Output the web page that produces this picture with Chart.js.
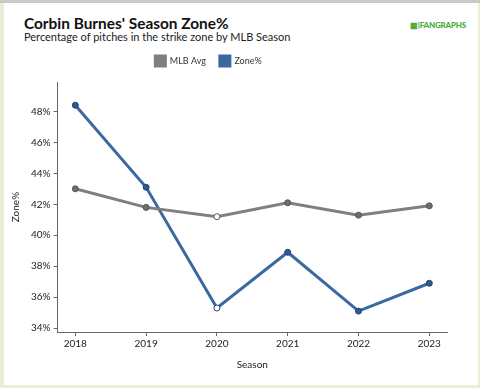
<!DOCTYPE html>
<html>
<head>
<meta charset="utf-8">
<script src="https://cdn.jsdelivr.net/npm/chart.js@4"></script>
<style>
  html, body { margin: 0; padding: 0; }
  body { width: 480px; height: 388px; background: #eeecd6; position: relative; overflow: hidden; font-family: Lato, sans-serif; }
  #topbar { position: absolute; left: 0; top: 0; width: 480px; height: 3px; background: #c9c9c9; }
  #panel { position: absolute; left: 4px; top: 3px; width: 474px; height: 382px; background: #fff; }
  #title { position: absolute; left: 20px; top: 11px; font-size: 15.4px; font-weight: bold; color: #111; }
  #subtitle { position: absolute; left: 20px; top: 27px; font-size: 11px; color: #222; }
  #logo { position: absolute; left: 406px; top: 17px; font-size: 8px; font-weight: 900; color: #4caa3c; letter-spacing: -0.2px; }
  #wrap { position: absolute; left: 0; top: 37px; width: 474px; height: 345px; }
</style>
</head>
<body>
<div id="topbar"></div>
<div id="panel">
  <div id="title">Corbin Burnes' Season Zone%</div>
  <div id="subtitle">Percentage of pitches in the strike zone by MLB Season</div>
  <div id="logo">&#9641;|FANGRAPHS</div>
  <div id="wrap"><canvas id="myChart"></canvas></div>
</div>
<script>
const seasons = [2018, 2019, 2020, 2021, 2022, 2023];
const mlbAvg = [43.0, 41.8, 41.2, 42.1, 41.3, 41.9];
const zonePct = [48.4, 43.1, 35.3, 38.9, 35.1, 36.9];
const yTicks = [34, 36, 38, 40, 42, 44, 46, 48];

const grayColor = '#7f7f7f';
const blueColor = '#3a69a0';

// legend sits a bit left of centre and has extra space below it
const legendTweak = {
    id: 'legendTweak',
    beforeInit(chart) {
        const origFit = chart.legend.fit;
        chart.legend.fit = function () {
            origFit.call(this);
            this.height += 6;
        };
    },
    afterLayout(chart) {
        chart.legend.left -= 18;
        chart.legend.right -= 18;
    }
};

function toPoints(values) {
    return seasons.map((s, i) => ({ x: s, y: values[i] }));
}

const ctx = document.getElementById('myChart').getContext('2d');
const chartInstance = new Chart(ctx, {
    type: 'line',
    data: {
        datasets: [
            {
                label: 'MLB Avg',
                data: toPoints(mlbAvg),
                borderColor: grayColor,
                backgroundColor: grayColor,
                borderWidth: 3,
                pointRadius: 3,
                pointBorderWidth: 1,
                pointBorderColor: '#555',
                pointBackgroundColor: seasons.map(s => s === 2020 ? '#fff' : '#6e6e6e'),
                tension: 0
            },
            {
                label: 'Zone%',
                data: toPoints(zonePct),
                borderColor: blueColor,
                backgroundColor: blueColor,
                borderWidth: 3,
                pointRadius: 3,
                pointBorderWidth: 1,
                pointBorderColor: '#24466e',
                pointBackgroundColor: seasons.map(s => s === 2020 ? '#fff' : '#2f5a8c'),
                tension: 0
            }
        ]
    },
    options: {
        responsive: true,
        maintainAspectRatio: false,
        animation: false,
        layout: {
            padding: { left: 2, right: 31, top: 2, bottom: 10 }
        },
        plugins: {
            legend: {
                display: true,
                position: 'top',
                labels: {
                    boxWidth: 10,
                    boxHeight: 10,
                    padding: 14,
                    color: '#333',
                    font: { family: 'Lato', size: 9 }
                }
            },
            tooltip: { enabled: false }
        },
        scales: {
            x: {
                type: 'linear',
                min: 2017.75,
                max: 2023.25,
                afterBuildTicks: scale => {
                    scale.ticks = seasons.map(v => ({ value: v }));
                },
                ticks: {
                    callback: v => String(v),
                    color: '#222',
                    font: { family: 'Lato', size: 10 },
                    padding: 2,
                    maxRotation: 0
                },
                grid: {
                    drawOnChartArea: false,
                    tickLength: 4,
                    color: '#666'
                },
                border: { color: '#666', width: 1 },
                title: {
                    display: true,
                    text: 'Season',
                    color: '#222',
                    font: { family: 'Lato', size: 10 },
                    padding: { top: 7 }
                }
            },
            y: {
                min: 33.75,
                max: 49.9,
                afterBuildTicks: scale => {
                    scale.ticks = yTicks.map(v => ({ value: v }));
                },
                ticks: {
                    callback: v => v + '%',
                    color: '#222',
                    font: { family: 'Lato', size: 10 },
                    padding: 3
                },
                grid: {
                    drawOnChartArea: false,
                    tickLength: 4,
                    color: '#666'
                },
                border: { color: '#666', width: 1 },
                title: {
                    display: true,
                    text: 'Zone%',
                    color: '#222',
                    font: { family: 'Lato', size: 10 },
                    padding: { bottom: 6 }
                }
            }
        }
    },
    plugins: [legendTweak]
});
</script>
</body>
</html>
